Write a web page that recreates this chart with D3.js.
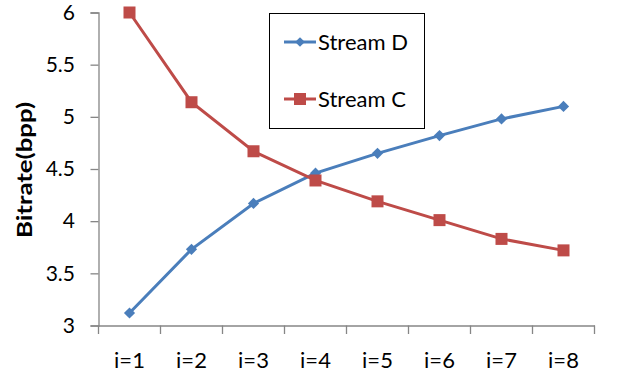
<!DOCTYPE html>
<html><head><meta charset="utf-8">
<script src="https://cdn.jsdelivr.net/npm/d3@7"></script>
<style>html,body{margin:0;padding:0;background:#fff;}svg{display:block;}</style>
</head><body>
<svg id="c" width="638" height="376"></svg>
<script>
const categories = ["i=1","i=2","i=3","i=4","i=5","i=6","i=7","i=8"];
const streamD = [3.12, 3.73, 4.17, 4.46, 4.65, 4.82, 4.98, 5.10];
const streamC = [6.0, 5.14, 4.67, 4.39, 4.19, 4.01, 3.83, 3.72];
const yTicks = [3, 3.5, 4, 4.5, 5, 5.5, 6];
const seriesNames = ["Stream D", "Stream C"];

const svg = d3.select("#c");
const font = "Lato, 'Open Sans', sans-serif";
const x = d3.scaleBand().domain(categories).range([98.5, 594.5]);
const y = d3.scaleLinear().domain([3, 6]).range([325.5, 12.5]);
const axisColor = "#868686";

// y axis
const ya = svg.append("g").attr("transform","translate(98.5,0)")
  .call(d3.axisLeft(y).tickValues(yTicks).tickSize(8).tickPadding(15.5).tickFormat(d3.format("")));
ya.select(".domain").attr("stroke", axisColor).attr("stroke-width",1.3);
ya.selectAll(".tick line").attr("stroke", axisColor).attr("stroke-width",1.3);
ya.selectAll("text").attr("font-family", font).attr("font-size", 21).attr("fill","#000");

// x axis
const xa = svg.append("g").attr("transform","translate(0,325.5)")
  .call(d3.axisBottom(x).tickSize(0).tickPadding(27));
xa.select(".domain").attr("stroke", axisColor).attr("stroke-width",1.3);
xa.selectAll("text").attr("font-family", font).attr("font-size", 22).attr("fill","#000");
// category boundary ticks
const bounds = categories.map(c => x(c)).concat([x.range()[1]]);
svg.append("g").selectAll("line").data(bounds).join("line")
  .attr("x1", d=>d).attr("x2", d=>d).attr("y1",325.5).attr("y2",334)
  .attr("stroke", axisColor).attr("stroke-width",1.3);

// y label
svg.append("text").attr("transform","translate(32,170) rotate(-90)")
  .attr("text-anchor","middle").attr("font-family",font).attr("font-weight","bold")
  .attr("font-size",21).attr("textLength",136).attr("lengthAdjust","spacingAndGlyphs").text("Bitrate(bpp)");

const cx = c => x(c) + x.bandwidth()/2;
const line = d3.line().x((d,i)=>cx(categories[i])).y(d=>y(d));
const blue = "#4a7ebb", red = "#be4b48";

svg.append("path").datum(streamD).attr("d", line).attr("fill","none").attr("stroke",blue).attr("stroke-width",3);
svg.append("path").datum(streamC).attr("d", line).attr("fill","none").attr("stroke",red).attr("stroke-width",3);

const diamond = d3.symbol().type(d3.symbolDiamond2).size(80);
svg.append("g").selectAll("path").data(streamD).join("path")
  .attr("d", diamond).attr("transform",(d,i)=>`translate(${cx(categories[i])},${y(d)})`)
  .attr("fill", blue);
svg.append("g").selectAll("rect").data(streamC).join("rect")
  .attr("x",(d,i)=>cx(categories[i])-6).attr("y",d=>y(d)-6).attr("width",12).attr("height",12)
  .attr("fill", red);

// legend
const lg = svg.append("g");
lg.append("rect").attr("x",269.5).attr("y",13.5).attr("width",155).attr("height",115)
  .attr("fill","#fff").attr("stroke","#000").attr("stroke-width",1);
const rows = [{name:seriesNames[0], color:blue, y:42, m:"d"},{name:seriesNames[1], color:red, y:99, m:"s"}];
rows.forEach(r => {
  lg.append("line").attr("x1",284).attr("x2",316).attr("y1",r.y).attr("y2",r.y).attr("stroke",r.color).attr("stroke-width",3);
  if (r.m==="d") lg.append("path").attr("d", d3.symbol().type(d3.symbolDiamond2).size(60)).attr("transform",`translate(300,${r.y})`).attr("fill",r.color);
  else lg.append("rect").attr("x",294).attr("y",r.y-6).attr("width",12).attr("height",12).attr("fill",r.color);
  lg.append("text").attr("x",318).attr("y",r.y).attr("dy","0.35em").attr("font-family",font).attr("font-size",22).text(r.name);
});
</script>
</body></html>
